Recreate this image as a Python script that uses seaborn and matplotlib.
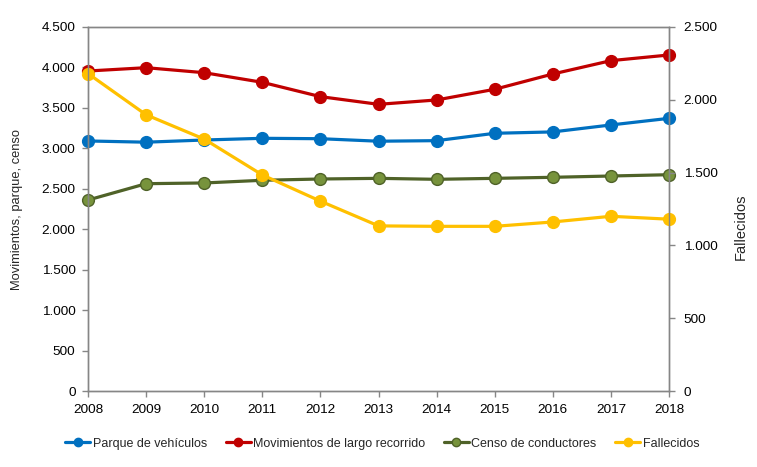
import numpy as np
import pandas as pd
import seaborn as sns
import matplotlib.pyplot as plt
from matplotlib.ticker import FuncFormatter, MultipleLocator
from matplotlib.lines import Line2D

years = [2008, 2009, 2010, 2011, 2012, 2013, 2014, 2015, 2016, 2017, 2018]
parque = [3091, 3076, 3103, 3124, 3119, 3088, 3095, 3186, 3203, 3289, 3371]
movimientos = [3956, 3997, 3935, 3816, 3639, 3544, 3598, 3730, 3919, 4084, 4154]
censo = [2361, 2563, 2572, 2605, 2621, 2629, 2617, 2629, 2642, 2658, 2674]
fallecidos = [2180, 1897, 1730, 1484, 1304, 1134, 1131, 1131, 1161, 1200, 1180]

sns.set_style("white")
plt.rcParams['font.family'] = ['Liberation Sans', 'DejaVu Sans']

fig = plt.figure(figsize=(7.57, 4.67), dpi=100)
ax = fig.add_axes([0.1163, 0.1627, 0.7675, 0.7795])
ax2 = ax.twinx()

df = pd.DataFrame({'year': years, 'parque': parque, 'mov': movimientos,
                   'censo': censo, 'fall': fallecidos})

lw = 2.3
ms = 8.5
series = [
    ('parque', 'Parque de vehículos', '#0070C0', '#0070C0', '#0070C0', ax),
    ('mov', 'Movimientos de largo recorrido', '#C00000', '#C00000', '#C00000', ax),
    ('censo', 'Censo de conductores', '#4F6228', '#77933C', '#4F6228', ax),
    ('fall', 'Fallecidos', '#FFC000', '#FFC000', '#FFC000', ax2),
]
handles = []
for col, label, lc, fc, ec, a in series:
    sns.lineplot(data=df, x='year', y=col, ax=a, color=lc, linewidth=lw,
                 marker='o', markersize=ms, markerfacecolor=fc,
                 markeredgecolor=ec, markeredgewidth=1, clip_on=False)
    handles.append(Line2D([], [], color=lc, linewidth=lw, marker='o',
                          markersize=6, markerfacecolor=fc, markeredgecolor=ec,
                          label=label))

fmt = FuncFormatter(lambda v, p: f"{int(v):,}".replace(',', '.'))
ax.set_xlim(2008, 2018)
ax.set_ylim(0, 4500)
ax2.set_ylim(0, 2500)
ax.set_xticks(years)
ax.yaxis.set_major_locator(MultipleLocator(500))
ax2.yaxis.set_major_locator(MultipleLocator(500))
ax.yaxis.set_major_formatter(fmt)
ax2.yaxis.set_major_formatter(fmt)

ax.set_xlabel('')
ax.set_ylabel('Movimientos, parque, censo', fontsize=9.3)
ax2.set_ylabel('Fallecidos', fontsize=10.5)
ax.yaxis.set_label_coords(-0.112, 0.5)
ax2.yaxis.set_label_coords(1.112, 0.45)

grey = '#868686'
for a in (ax, ax2):
    for s in a.spines.values():
        s.set_color(grey)
        s.set_linewidth(1)
    a.tick_params(axis='both', labelsize=9.7, colors='black', length=4,
                  width=1, direction='out')
    a.tick_params(axis='both', color=grey)
ax.tick_params(axis='y', left=True, right=False, pad=5)
ax.tick_params(axis='x', bottom=True, pad=5.5)
ax2.tick_params(axis='y', right=True, left=False, pad=6.5)

fig.legend(handles=handles, loc='center', bbox_to_anchor=(0.505, 0.05),
           ncol=4, frameon=False, fontsize=9, handlelength=2.0,
           handletextpad=0.2, columnspacing=1.5)

fig.savefig('out.png', dpi=100)
